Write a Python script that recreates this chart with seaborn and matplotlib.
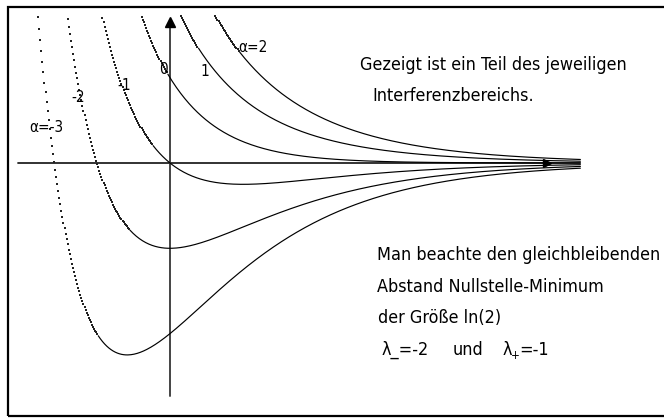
import numpy as np
import pandas as pd
import matplotlib
matplotlib.use("Agg")
import matplotlib.pyplot as plt
from matplotlib.patches import Rectangle
from matplotlib import font_manager
import seaborn as sns

# Parameters of the family y = alpha * exp(lam_plus * x) + exp(lam_minus * x)
lam_minus = -2
lam_plus = -1
alphas = [-3, -2, -1, 0, 1, 2]
# x where each curve turns from dotted to solid (start of the shown interference range)
solid_start = [-0.68, -0.38, -0.16, -0.02, 0.27, 0.66]
x_end = 3.89
curve_labels = ["α=-3", "-2", "-1", "0", "1", "α=2"]

sns.set_theme(style="white")

# pick a narrow sans face if one is installed
narrow_file = None
for f in font_manager.fontManager.ttflist:
    fname = f.fname.lower()
    if "liberationsansnarrow-regular" in fname:
        narrow_file = f.fname
        break
if narrow_file is None:
    for f in font_manager.fontManager.ttflist:
        fname = f.fname.lower()
        if "dejavusanscondensed.ttf" in fname or ("condensed" in fname and "sans" in fname
                                                  and "bold" not in fname and "oblique" not in fname
                                                  and "italic" not in fname and "mono" not in fname):
            narrow_file = f.fname
            break

if narrow_file is not None:
    base_prop = font_manager.FontProperties(fname=narrow_file)
    scale = 1.0
else:
    base_prop = font_manager.FontProperties(family="DejaVu Sans")
    scale = 0.82

plt.rcParams["font.family"] = ["DejaVu Sans"]
plt.rcParams["text.color"] = "black"


def prop(size):
    p = base_prop.copy()
    p.set_size(size * scale)
    return p


W, H = 664, 419
X0, Y0 = 170, 163        # origin in pixels
SX, SY = 105.5, 85.3     # pixels per unit


def px(xp, yp):
    return (xp - X0) / SX, (Y0 - yp) / SY


fig = plt.figure(figsize=(W / 100, H / 100), dpi=100)
ax = fig.add_axes([0, 0, 1, 1])
ax.set_xlim(-X0 / SX, (W - X0) / SX)
ax.set_ylim(-(H - Y0) / SY, Y0 / SY)
ax.axis("off")

ytop = px(0, 14.5)[1]
x_all = np.round(np.arange(-1.6, x_end + 1e-9, 0.01), 4)
rows = []
for a, xs in zip(alphas, solid_start):
    y = a * np.exp(lam_plus * x_all) + np.exp(lam_minus * x_all)
    keep = y <= ytop
    part = np.where(x_all < xs, "dot", "solid")
    rows.append(pd.DataFrame({"x": x_all[keep], "y": y[keep], "alpha": a, "part": part[keep]}))
df = pd.concat(rows, ignore_index=True)

# axes with arrow heads
ax.plot([px(18, 0)[0], px(580, 0)[0]], [0, 0], color="#222222", lw=1.3, zorder=1)
ax.plot([0, 0], [px(0, 396)[1], px(0, 22)[1]], color="#444444", lw=1.4, zorder=1)
ax.plot([0], [px(0, 22.5)[1]], marker="^", color="black", markersize=6.5, zorder=3)
ax.plot([px(547, 0)[0]], [0], marker=">", color="black", markersize=5.5, zorder=3)

# solid parts
for a in alphas:
    d = df[(df.alpha == a) & (df.part == "solid")]
    sns.lineplot(data=d, x="x", y="y", ax=ax, color="black", lw=0.85,
                 estimator=None, sort=False, zorder=2)
# dotted parts: the sampled points themselves
dots = df[df.part == "dot"]
sns.scatterplot(data=dots, x="x", y="y", ax=ax, color="#222222", s=0.7,
                marker="s", linewidth=0, zorder=2)

# curve labels
label_pos = [(46, 128), (78, 98), (124, 85), (163, 70), (205, 72), (253, 47)]
for lab, (lx, ly) in zip(curve_labels, label_pos):
    ax.text(*px(lx, ly), lab, fontproperties=prop(11), ha="center", va="center", color="black")

fs = 12.9
notes = [
    ((360, 70), "Gezeigt ist ein Teil des jeweiligen"),
    ((372, 101), "Interferenzbereichs."),
    ((377, 260), "Man beachte den gleichbleibenden"),
    ((377, 292), "Abstand Nullstelle-Minimum"),
    ((378, 323), "der Größe ln(2)"),
    ((382, 355), "λ_=-2"),
    ((453, 355), "und"),
    ((503, 355), "λ"),
    ((519, 355), "=-1"),
]
for (nx, ny), s in notes:
    ax.text(*px(nx, ny), s, fontproperties=prop(fs), va="baseline", color="black")
# subscript of the second eigenvalue
ax.text(*px(511, 359), "+", fontproperties=prop(8.5), va="baseline", color="black")

# frame
fig.patches.append(Rectangle((8 / W, 1 - 416 / H), 1.2, (416 - 7) / H,
                             transform=fig.transFigure, fill=False,
                             edgecolor="black", lw=1.6))
ax.set_xlabel("")
ax.set_ylabel("")
fig.savefig("out.png", dpi=100)
